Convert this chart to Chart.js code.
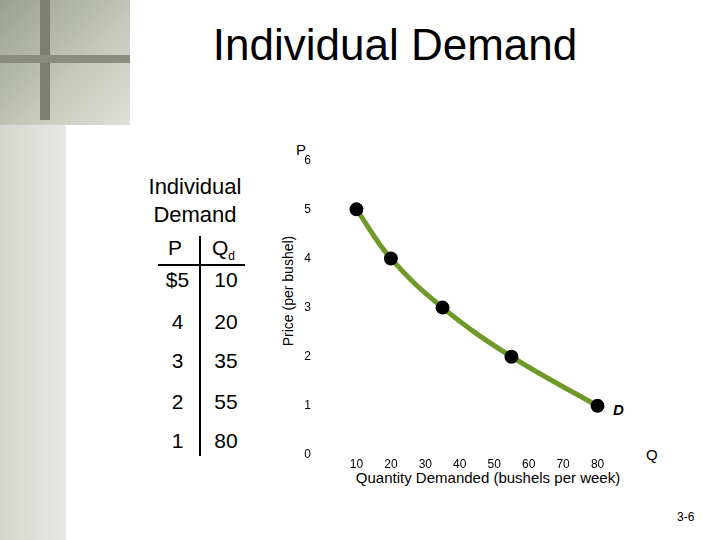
<!DOCTYPE html>
<html><head><meta charset="utf-8">
<script src="https://cdn.jsdelivr.net/npm/chart.js@4"></script>
<style>
body{margin:0;width:720px;height:540px;position:relative;background:#fff;font-family:"Liberation Sans",Arial,sans-serif;overflow:hidden}
.abs{position:absolute}
</style></head><body>
<div class="abs" style="left:0;top:0;width:66px;height:540px;background:linear-gradient(90deg,#d3d5ce,#e8e9e4)"></div>
<div class="abs" style="left:0;top:0;width:130px;height:125px;background:linear-gradient(135deg,#9aa08e,#c7cabd 60%,#dfe0da)"></div>
<div class="abs" style="left:40px;top:0;width:10px;height:120px;background:#7d806f"></div>
<div class="abs" style="left:0;top:55px;width:130px;height:8px;background:#8a8d7e"></div>
<div class="abs" style="left:66px;top:125px;width:654px;height:415px;background:#fff"></div>
<div class="abs" style="left:130px;top:0;width:590px;height:125px;background:#fff"></div>
<div class="abs" style="left:130px;top:20px;width:530px;text-align:center;font-size:44px;color:#000">Individual Demand</div>

<div class="abs" style="left:120px;top:173px;width:150px;text-align:center;font-size:22px;line-height:28px">Individual<br>Demand</div>
<div class="abs" style="left:158px;top:264px;width:87px;height:2px;background:#000"></div>
<div class="abs" style="left:199px;top:236px;width:2px;height:220px;background:#000"></div>
<div id="tbl"></div>

<div class="abs" style="left:296px;top:141px;font-size:15px">P</div>
<div class="abs" style="left:188px;top:283px;width:200px;text-align:center;transform:rotate(-90deg);font-size:14px">Price (per bushel)</div>
<div class="abs" style="left:320px;top:469px;width:336px;text-align:center;font-size:15px">Quantity Demanded (bushels per week)</div>
<div class="abs" style="left:646px;top:446px;font-size:15px">Q</div>
<div class="abs" style="left:613px;top:401px;font-size:15px;font-weight:bold;font-style:italic">D</div>
<div class="abs" style="left:677px;top:510px;font-size:12px">3-6</div>

<div class="abs" style="left:270px;top:150px;width:380px;height:335px"><canvas id="c"></canvas></div>
<script>
const prices=[5,4,3,2,1];
const quantities=[10,20,35,55,80];
const priceLabels=['$5','4','3','2','1'];
const xTicks=[10,20,30,40,50,60,70,80];

const rowsY=[268,310,349,390,429];
let h='<div class="abs" style="left:160px;top:236px;width:30px;text-align:center;font-size:21px">P</div>'+
 '<div class="abs" style="left:212px;top:236px;font-size:21px">Q<sub style="font-size:12px">d</sub></div>';
priceLabels.forEach((p,i)=>{
 h+=`<div class="abs" style="left:160px;top:${rowsY[i]}px;width:35px;text-align:center;font-size:21px">${p}</div>`+
    `<div class="abs" style="left:206px;top:${rowsY[i]}px;width:40px;text-align:center;font-size:21px">${quantities[i]}</div>`;
});
document.getElementById('tbl').innerHTML=h;

new Chart(document.getElementById('c'),{
 type:'line',
 data:{datasets:[{data:quantities.map((q,i)=>({x:q,y:prices[i]})),
  borderColor:'#6f9a2a',borderWidth:5,tension:0.4,
  pointRadius:4.5,pointBackgroundColor:'#000',pointBorderColor:'#000'}]},
 options:{responsive:true,maintainAspectRatio:false,animation:false,
  layout:{padding:{left:12,top:10,right:18,bottom:0}},
  plugins:{legend:{display:false},tooltip:{enabled:false}},
  scales:{
   x:{type:'linear',min:0,max:90,grid:{display:false,drawTicks:false},border:{display:false},
    afterFit:s=>{s.height=30},
    afterBuildTicks:s=>{s.ticks=xTicks.map(v=>({value:v}))},
    ticks:{padding:2,color:'#000',font:{size:12,family:'Liberation Sans'},maxRotation:0}},
   y:{type:'linear',min:0,max:6,grid:{display:false},border:{display:false},
    afterFit:s=>{s.width=40},
    ticks:{stepSize:1,color:'#000',font:{size:12,family:'Liberation Sans'}}}
  }}
});
</script>
</body></html>
